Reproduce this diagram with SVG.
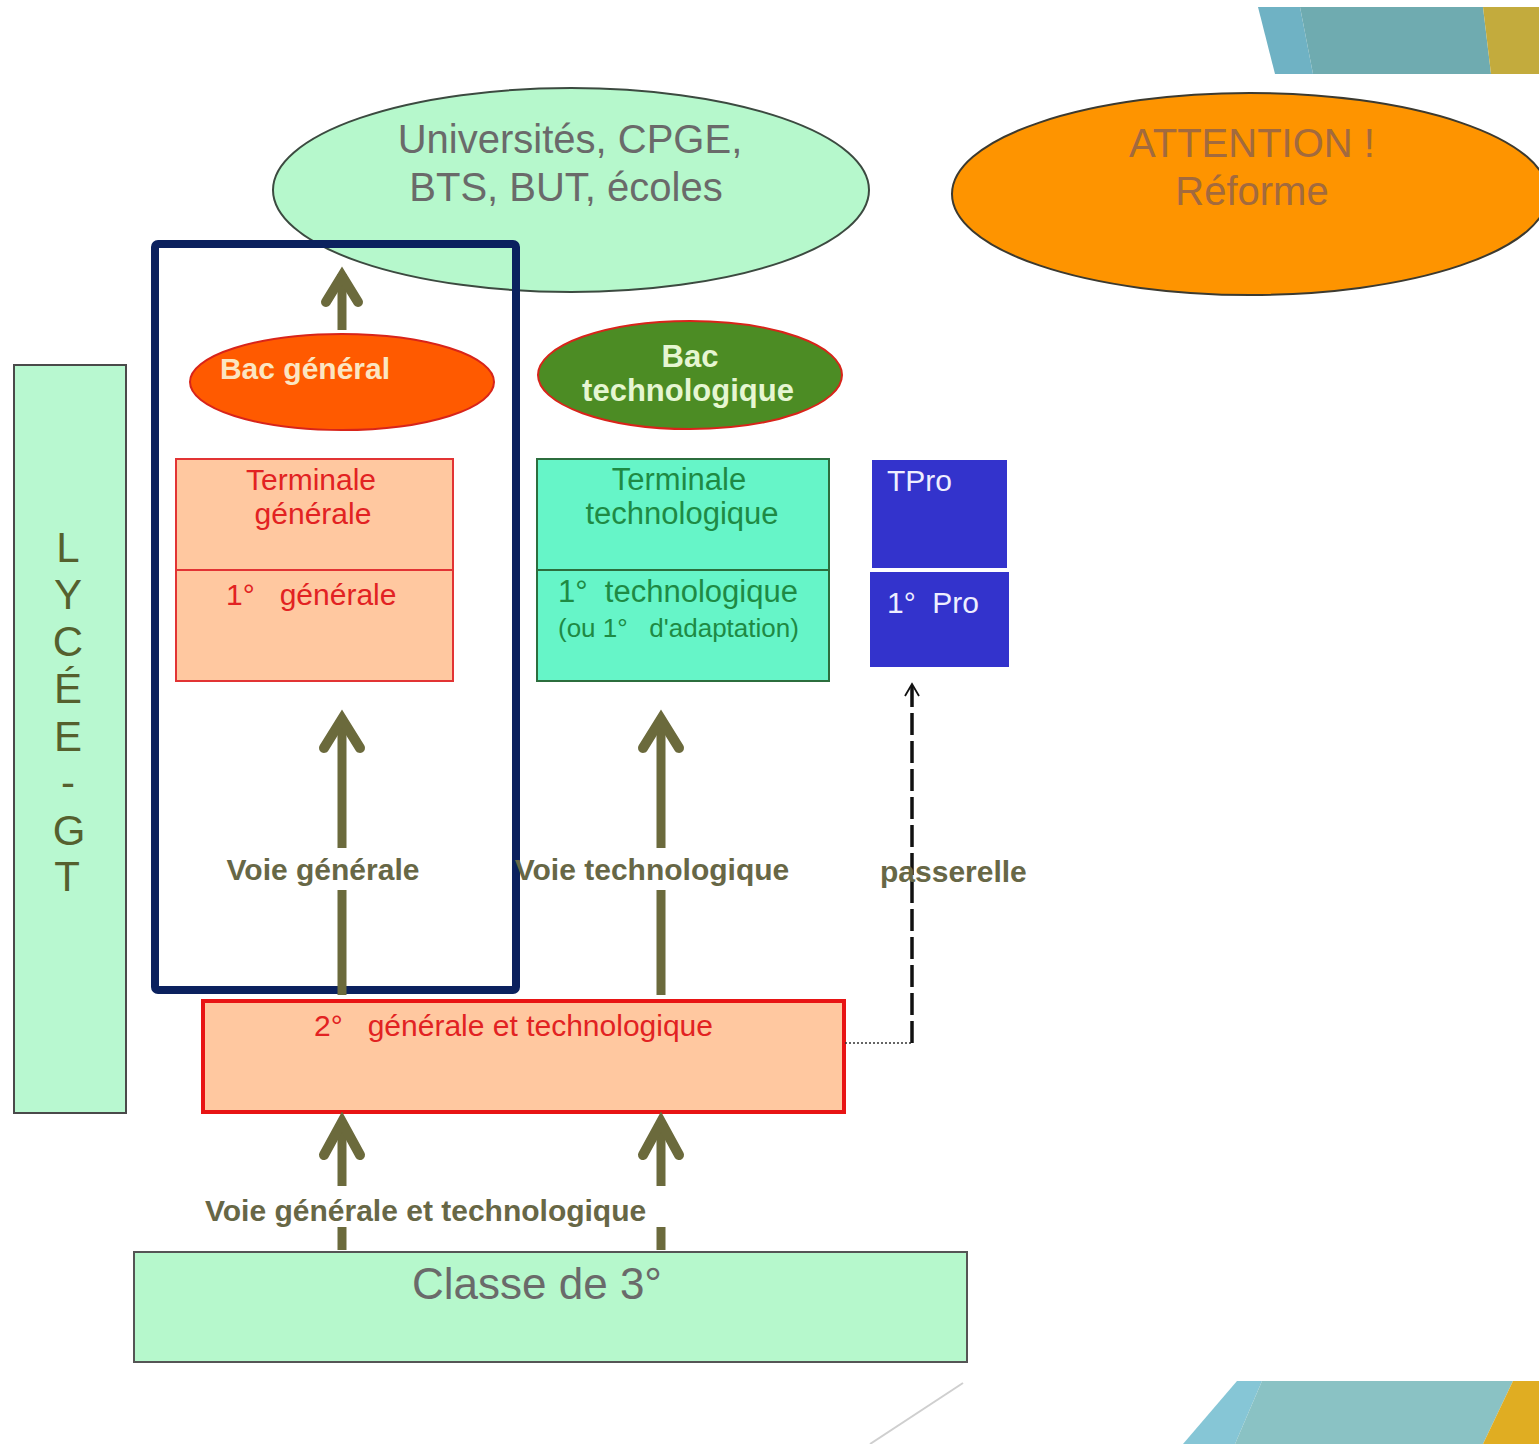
<svg xmlns="http://www.w3.org/2000/svg" width="1539" height="1444" viewBox="0 0 1539 1444">
<defs>
<style>
text{font-family:"Liberation Sans",Arial,sans-serif}
.arr{stroke:#6b6a3c;stroke-width:9;fill:none}
.head{stroke:#6b6a3c;stroke-width:10;fill:none;stroke-linecap:round;stroke-linejoin:miter}
.lbl{font-weight:bold;font-size:30px;fill:#676746}
.big{font-size:40px;fill:#6a6a6a}
.red{font-size:30px;fill:#e22222}
.grn{font-size:31px;fill:#1e8a44}
</style>
</defs>
<rect width="1539" height="1444" fill="#ffffff"/>
<g id="decor">
<polygon points="1258,7 1300,7 1313,74 1275,74" fill="#6fb2c4"/>
<polygon points="1300,7 1483,7 1491,74 1313,74" fill="#6fabb0"/>
<polygon points="1483,7 1539,7 1539,74 1491,74" fill="#c3ab3d"/>
<polygon points="1237,1381 1262,1381 1235,1444 1183,1444" fill="#86c6d6"/>
<polygon points="1262,1381 1513,1381 1483,1444 1235,1444" fill="#8ac2c4"/>
<polygon points="1513,1381 1539,1381 1539,1444 1483,1444" fill="#e0ad22"/>
<line x1="870" y1="1444" x2="963" y2="1383" stroke="#cfcfcf" stroke-width="2"/>
</g>
<g id="universites">
<ellipse cx="571" cy="190" rx="298" ry="102" fill="#b6f8cc" stroke="#3c4a40" stroke-width="2"/>
<text class="big" x="570" y="153" text-anchor="middle">Universités, CPGE,</text>
<text class="big" x="566" y="201" text-anchor="middle">BTS, BUT, écoles</text>
</g>
<g id="attention">
<ellipse cx="1250" cy="194" rx="298" ry="101" fill="#fe9400" stroke="#3c3a30" stroke-width="2"/>
<text x="1252" y="157" text-anchor="middle" font-size="40" fill="#a26a3e">ATTENTION !</text>
<text x="1252" y="205" text-anchor="middle" font-size="40" fill="#a26a3e">Réforme</text>
</g>
<g id="lycee-gt">
<rect x="14" y="365" width="112" height="748" fill="#b8f8d0" stroke="#4a4a4a" stroke-width="2"/>
<g font-size="42" fill="#55602e" text-anchor="middle">
<text x="68" y="562">L</text>
<text x="68" y="609">Y</text>
<text x="68" y="656">C</text>
<text x="68" y="703">É</text>
<text x="68" y="751">E</text>
<text x="68" y="797">-</text>
<text x="69" y="845">G</text>
<text x="67" y="891">T</text>
</g>
</g>
<g id="highlight">
<rect x="155" y="244" width="361" height="746" rx="3" fill="none" stroke="#0b215e" stroke-width="8"/>
</g>
<g id="bac-general">
<ellipse cx="342" cy="382" rx="152" ry="48" fill="#ff5a00" stroke="#d8241a" stroke-width="2"/>
<text x="305" y="379" text-anchor="middle" font-size="30" font-weight="bold" fill="#fbe6c2">Bac général</text>
</g>
<g id="bac-techno">
<ellipse cx="690" cy="375" rx="152" ry="54" fill="#4c8c24" stroke="#d8241a" stroke-width="2"/>
<text x="690" y="367" text-anchor="middle" font-size="31" font-weight="bold" fill="#e6f6d2">Bac</text>
<text x="688" y="401" text-anchor="middle" font-size="31" font-weight="bold" fill="#e6f6d2">technologique</text>
</g>
<g id="terminale-generale">
<rect x="176" y="459" width="277" height="111" fill="#ffc8a0" stroke="#e23434" stroke-width="2"/>
<text class="red" x="311" y="490" text-anchor="middle">Terminale</text>
<text class="red" x="313" y="524" text-anchor="middle">générale</text>
</g>
<g id="premiere-generale">
<rect x="176" y="570" width="277" height="111" fill="#ffc8a0" stroke="#e23434" stroke-width="2"/>
<text class="red" x="226" y="605" xml:space="preserve">1°   générale</text>
</g>
<g id="terminale-techno">
<rect x="537" y="459" width="292" height="111" fill="#66f5c8" stroke="#2c6e3e" stroke-width="2"/>
<text class="grn" x="679" y="490" text-anchor="middle">Terminale</text>
<text class="grn" x="682" y="524" text-anchor="middle">technologique</text>
</g>
<g id="premiere-techno">
<rect x="537" y="570" width="292" height="111" fill="#66f5c8" stroke="#2c6e3e" stroke-width="2"/>
<text class="grn" x="558" y="602" xml:space="preserve">1°  technologique</text>
<text x="558" y="637" font-size="26" fill="#1e8a44" xml:space="preserve">(ou 1°   d'adaptation)</text>
</g>
<g id="tpro">
<rect x="872" y="460" width="135" height="108" fill="#3333cc"/>
<text x="887" y="491" font-size="30" fill="#eeeeff">TPro</text>
</g>
<g id="premiere-pro">
<rect x="870" y="572" width="139" height="95" fill="#3333cc"/>
<text x="887" y="613" font-size="30" fill="#eeeeff" xml:space="preserve">1°  Pro</text>
</g>
<g id="seconde">
<rect x="203" y="1001" width="641" height="111" fill="#ffc8a0" stroke="#e81414" stroke-width="4"/>
<text class="red" x="314" y="1036" xml:space="preserve">2°   générale et technologique</text>
</g>
<g id="troisieme">
<rect x="134" y="1252" width="833" height="110" fill="#b6f8cc" stroke="#555555" stroke-width="2"/>
<text x="537" y="1299" text-anchor="middle" font-size="44" fill="#6a6a6a">Classe de 3°</text>
</g>
<g id="connectors">
<line class="arr" x1="342" y1="330" x2="342" y2="274"/>
<polyline class="head" points="326,302 342,276 358,302"/>
<line class="arr" x1="342" y1="995" x2="342" y2="890"/>
<line class="arr" x1="342" y1="848" x2="342" y2="718"/>
<polyline class="head" points="324,748 342,719 360,748"/>
<line class="arr" x1="661" y1="995" x2="661" y2="890"/>
<line class="arr" x1="661" y1="848" x2="661" y2="718"/>
<polyline class="head" points="643,748 661,719 679,748"/>
<line class="arr" x1="342" y1="1250" x2="342" y2="1227"/>
<line class="arr" x1="342" y1="1186" x2="342" y2="1121"/>
<polyline class="head" points="324,1155 342,1122 360,1155"/>
<line class="arr" x1="661" y1="1250" x2="661" y2="1227"/>
<line class="arr" x1="661" y1="1186" x2="661" y2="1121"/>
<polyline class="head" points="643,1155 661,1122 679,1155"/>
<polyline points="845,1043 912,1043" fill="none" stroke="#333" stroke-width="1.5" stroke-dasharray="2,2"/>
<line x1="912" y1="1043" x2="912" y2="686" stroke="#111" stroke-width="3.5" stroke-dasharray="22,6"/>
<polyline points="905,696 912,684 919,696" fill="none" stroke="#111" stroke-width="1.8"/>
<text class="lbl" x="323" y="880" text-anchor="middle">Voie générale</text>
<text class="lbl" x="652" y="880" text-anchor="middle">Voie technologique</text>
<text class="lbl" x="880" y="882">passerelle</text>
<text class="lbl" x="205" y="1221">Voie générale et technologique</text>
</g>
</svg>
